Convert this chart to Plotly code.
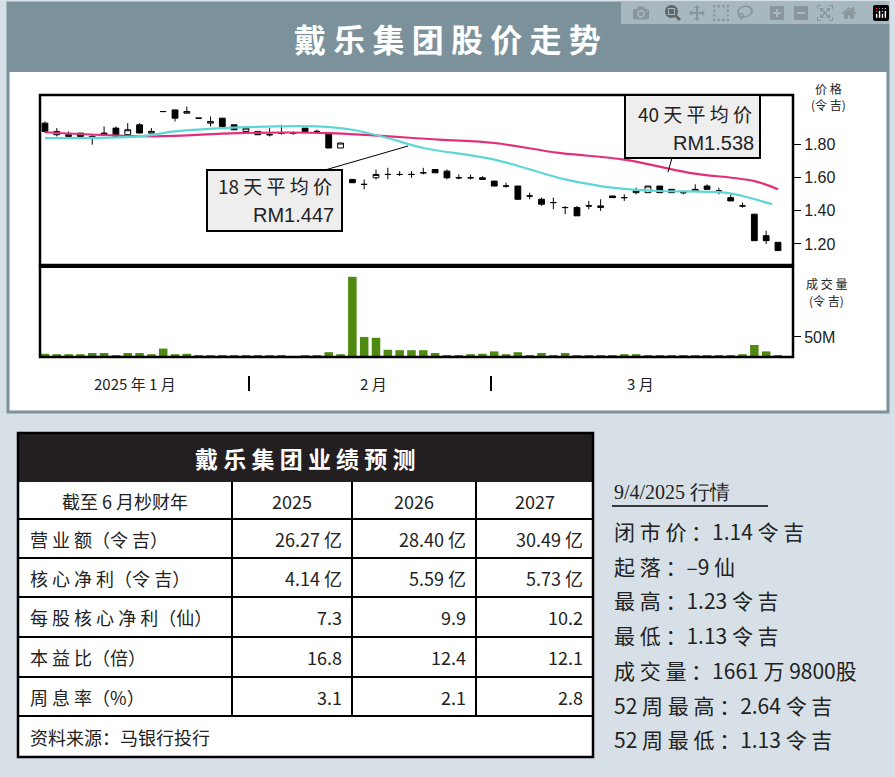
import plotly.graph_objects as go

W, H = 895, 777

# candles (open, high, low, close)
opens = [1.93, 1.86, 1.85, 1.87, 1.85, 1.86, 1.90, 1.86, 1.92, 1.87, 2.00, 2.01, 1.99, 1.96, 1.93, 1.96,
         1.92, 1.88, 1.88, 1.86, 1.87, 1.87, 1.90, 1.88, 1.87, 1.78, 1.59, 1.56, 1.60, 1.62, 1.62, 1.62,
         1.63, 1.65, 1.64, 1.60, 1.60, 1.60, 1.58, 1.55, 1.55, 1.49, 1.47, 1.45, 1.42, 1.42, 1.43, 1.42,
         1.49, 1.48, 1.51, 1.51, 1.55, 1.53, 1.51, 1.52, 1.55, 1.52, 1.48, 1.43, 1.38, 1.25, 1.21]
closes = [1.88, 1.88, 1.86, 1.85, 1.84, 1.87, 1.85, 1.89, 1.87, 1.88, 2.00, 1.96, 2.00, 1.96, 1.94, 1.91,
          1.89, 1.90, 1.86, 1.86, 1.87, 1.87, 1.88, 1.88, 1.78, 1.81, 1.57, 1.56, 1.62, 1.62, 1.62, 1.62,
          1.63, 1.63, 1.60, 1.60, 1.60, 1.59, 1.55, 1.55, 1.47, 1.49, 1.44, 1.45, 1.42, 1.37, 1.43, 1.43,
          1.48, 1.48, 1.52, 1.55, 1.51, 1.51, 1.51, 1.53, 1.53, 1.52, 1.46, 1.43, 1.22, 1.22, 1.16]
highs = [1.94, 1.90, 1.88, 1.87, 1.86, 1.91, 1.91, 1.93, 1.93, 1.90, 2.00, 2.01, 2.03, 1.96, 1.97, 1.96,
         1.92, 1.91, 1.88, 1.90, 1.92, 1.88, 1.90, 1.89, 1.87, 1.81, 1.59, 1.59, 1.65, 1.66, 1.64, 1.64,
         1.66, 1.65, 1.65, 1.62, 1.62, 1.61, 1.58, 1.57, 1.55, 1.51, 1.48, 1.48, 1.43, 1.43, 1.46, 1.47,
         1.49, 1.50, 1.54, 1.55, 1.55, 1.53, 1.52, 1.56, 1.56, 1.54, 1.50, 1.45, 1.38, 1.28, 1.21]
lows = [1.87, 1.85, 1.85, 1.85, 1.80, 1.86, 1.85, 1.86, 1.87, 1.87, 2.00, 1.94, 1.99, 1.96, 1.91, 1.91,
        1.89, 1.88, 1.86, 1.85, 1.86, 1.86, 1.87, 1.87, 1.78, 1.78, 1.57, 1.53, 1.59, 1.59, 1.61, 1.60,
        1.62, 1.63, 1.59, 1.59, 1.59, 1.59, 1.55, 1.54, 1.47, 1.47, 1.43, 1.41, 1.38, 1.37, 1.41, 1.40,
        1.48, 1.46, 1.50, 1.51, 1.51, 1.51, 1.50, 1.52, 1.53, 1.50, 1.46, 1.42, 1.22, 1.20, 1.16]
volumes = [8, 7, 7, 7, 10, 10, 5, 10, 10, 7, 21, 7, 8, 5, 5, 5, 5, 3, 5, 5, 5, 2, 5, 5, 12, 7,
           200, 50, 48, 18, 17, 17, 17, 10, 3, 5, 7, 8, 14, 7, 12, 5, 10, 5, 10, 5, 5, 5, 5, 7,
           7, 5, 5, 5, 5, 5, 5, 3, 5, 7, 30, 14, 5]
days = list(range(len(closes)))

ma18_x = [0, 8, 11, 15, 23, 26, 29, 32, 38, 44, 47, 49.5, 52, 57.5, 59, 61.5]
ma18_y = [1.84, 1.85, 1.88, 1.90, 1.91, 1.89, 1.84, 1.78, 1.71, 1.59, 1.55, 1.53, 1.52, 1.51, 1.49, 1.44]
ma40_x = [0, 9.3, 16.3, 24, 33.3, 38, 43.5, 49, 54.5, 60, 62]
ma40_y = [1.875, 1.85, 1.87, 1.87, 1.83, 1.81, 1.75, 1.71, 1.63, 1.58, 1.53]

table_title = "戴 乐 集 团 业 绩 预 测"
col_heads = ["截至 6 月杪财年", "2025", "2026", "2027"]
row_labels = ["营 业 额（令 吉）", "核 心 净 利（令 吉）", "每 股 核 心 净 利（仙）", "本 益 比（倍）", "周 息 率（%）"]
row_values = [["26.27 亿", "28.40 亿", "30.49 亿"],
              ["4.14 亿", "5.59 亿", "5.73 亿"],
              ["7.3", "9.9", "10.2"],
              ["16.8", "12.4", "12.1"],
              ["3.1", "2.1", "2.8"]]
source = "资料来源：马银行投行"

quote_title = "9/4/2025 行情"
quote_lines = ["闭 市 价 ：1.14 令 吉", "起 落 ：–9 仙", "最 高 ：1.23 令 吉", "最 低 ：1.13 令 吉",
               "成 交 量 ：1661 万 9800股", "52 周 最 高 ：2.64 令 吉", "52 周 最 低 ：1.13 令 吉"]

FONT = "Noto Sans CJK SC"


def px(x):
    return x / W


def py(y):
    return 1 - y / H


fig = go.Figure()
fig.add_trace(go.Candlestick(
    x=days, open=opens, high=highs, low=lows, close=closes,
    increasing=dict(line=dict(color="black", width=1), fillcolor="white"),
    decreasing=dict(line=dict(color="black", width=1), fillcolor="black"),
    whiskerwidth=0, showlegend=False, xaxis="x", yaxis="y"))
fig.add_trace(go.Scatter(x=ma40_x, y=ma40_y, mode="lines", line=dict(color="#e0307a", width=2.2),
                         line_shape="spline", showlegend=False, xaxis="x", yaxis="y"))
fig.add_trace(go.Scatter(x=ma18_x, y=ma18_y, mode="lines", line=dict(color="#5fd6d6", width=2.2),
                         line_shape="spline", showlegend=False, xaxis="x", yaxis="y"))
fig.add_trace(go.Bar(x=days, y=volumes, marker=dict(color="#4e8a10", line_width=0), width=0.72,
                     showlegend=False, xaxis="x2", yaxis="y2"))

xr = [-0.42, 63.27]
fig.update_layout(
    width=W, height=H, margin=dict(l=0, r=0, t=0, b=0),
    paper_bgcolor="#d6e0e6", plot_bgcolor="white",
    font=dict(family=FONT, color="#222"),
    xaxis=dict(domain=[px(40), px(793)], range=xr, visible=False, rangeslider=dict(visible=False)),
    yaxis=dict(domain=[py(265), py(95)], range=[1.073, 2.10], side="right", anchor="x",
               tickvals=[1.2, 1.4, 1.6, 1.8], ticktext=["1.20", "1.40", "1.60", "1.80"],
               ticks="outside", ticklen=7, tickcolor="black", showgrid=False, zeroline=False,
               tickfont=dict(size=16, family="Liberation Sans", color="#222")),
    xaxis2=dict(domain=[px(40), px(793)], range=xr, visible=False, anchor="y2"),
    yaxis2=dict(domain=[py(357), py(268)], range=[0, 222], side="right", anchor="x2",
                tickvals=[50], ticktext=["50M"], ticks="outside", ticklen=7, tickcolor="black",
                showgrid=False, zeroline=False,
                tickfont=dict(size=16, family="Liberation Sans", color="#222")),
    bargap=0.3,
)

shapes = []
ann = []


def rect(x0, y0, x1, y1, fill=None, line=None, lw=0, layer="below"):
    shapes.append(dict(type="rect", xref="paper", yref="paper", x0=px(x0), x1=px(x1), y0=py(y1), y1=py(y0),
                       fillcolor=fill or "rgba(0,0,0,0)", line=dict(color=line or "rgba(0,0,0,0)", width=lw),
                       layer=layer))


def seg(x0, y0, x1, y1, color="black", lw=1, layer="above"):
    shapes.append(dict(type="line", xref="paper", yref="paper", x0=px(x0), x1=px(x1), y0=py(y0), y1=py(y1),
                       line=dict(color=color, width=lw), layer=layer))


def text(x, y, s, size=17, color="#222", anchor="left", family=FONT, bold=False):
    if bold:
        s = "<b>" + s + "</b>"
    ann.append(dict(xref="paper", yref="paper", x=px(x), y=py(y), text=s, showarrow=False,
                    xanchor=anchor, yanchor="middle", font=dict(size=size, color=color, family=family)))


# top panel
rect(8, 3, 888, 412, fill="white", line="#7b919b", lw=3)
rect(8, 3, 888, 72, fill="#7b919b")
text(447, 38, "戴 乐 集 团 股 价 走 势", size=32, color="white", anchor="center", bold=True)
rect(40, 95, 793, 265, line="black", lw=2.5, layer="above")
rect(40, 266, 793, 357, line="black", lw=2.5, layer="above")
seg(40, 266, 793, 266, lw=4)
text(828, 88, "价 格", size=12, anchor="center")
text(828, 105, "(令 吉)", size=12, anchor="center")
text(826, 283, "成 交 量", size=12, anchor="center")
text(826, 300, "(令 吉)", size=12, anchor="center")
text(135, 383, "2025 年 1 月", size=15, anchor="center")
text(373, 383, "2 月", size=15, anchor="center")
text(640, 383, "3 月", size=15, anchor="center")
seg(249, 376, 249, 391, lw=2)
seg(491, 376, 491, 391, lw=2)

# moving-average callouts
seg(325, 170, 408, 146)
rect(207, 170, 342, 231, fill="#eeeeee", line="black", lw=2, layer="above")
text(334, 186, "18 天 平 均 价", size=19, anchor="right")
text(336, 215, "RM1.447", size=20, anchor="right", family="Liberation Sans")
seg(672, 158, 668, 172)
rect(625, 95, 760, 158, fill="#eeeeee", line="black", lw=2, layer="above")
text(754, 113, "40 天 平 均 价", size=19, anchor="right")
text(756, 143, "RM1.538", size=20, anchor="right", family="Liberation Sans")

# forecast table
cols = [18, 232, 352, 476, 593]
rows = [482, 519, 558, 597, 637, 677, 716, 757]
rect(18, 433, 593, 757, fill="white")
rect(18, 433, 593, 482, fill="#231f20")
rect(18, 433, 593, 757, line="black", lw=2.5, layer="above")
text(305, 458, table_title, size=23, color="white", anchor="center", bold=True)
for r in rows[1:-1]:
    seg(18, r, 593, r, lw=2)
for c in cols[1:-1]:
    seg(c, 482, c, 716, lw=2)
for i, h in enumerate(col_heads):
    text((cols[i] + cols[i + 1]) / 2, (rows[0] + rows[1]) / 2, h, size=18, anchor="center")
for j, lab in enumerate(row_labels):
    ym = (rows[j + 1] + rows[j + 2]) / 2
    text(28, ym, lab, size=18)
    for i, v in enumerate(row_values[j]):
        text(cols[i + 2] - 8, ym, v, size=18, anchor="right")
text(28, (rows[-2] + rows[-1]) / 2, source, size=18)

# quote block
text(612, 492, quote_title, size=20, family="Liberation Serif")
seg(612, 506, 768, 506, lw=1.5)
for k, line in enumerate(quote_lines):
    text(612, 531 + k * 34.7, line, size=21)

fig.update_layout(shapes=shapes, annotations=ann)
fig.write_html("out.html", post_script="document.body.style.margin='0';")
